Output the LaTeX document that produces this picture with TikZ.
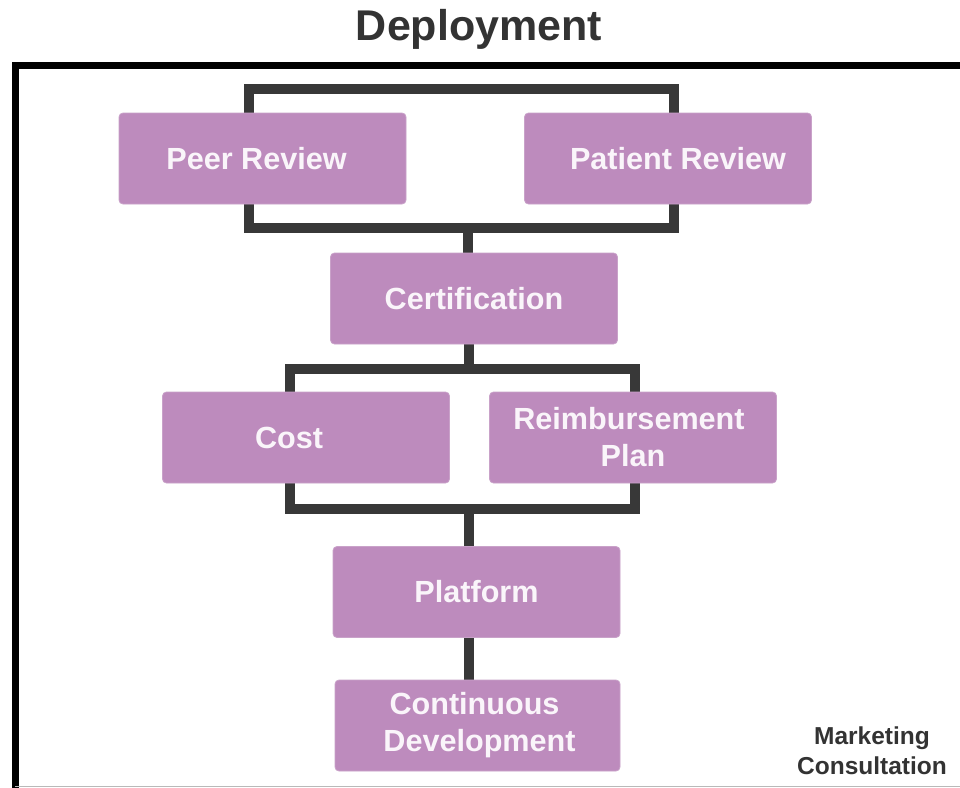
\documentclass[tikz,border=0pt]{standalone}
\usepackage{fontspec}
\setmainfont{Liberation Sans}
\definecolor{boxfill}{HTML}{BD8BBD}
\definecolor{boxline}{HTML}{C9A2C9}
\definecolor{conn}{HTML}{383838}
\definecolor{titlec}{HTML}{333333}
\definecolor{boxtext}{HTML}{FAF5FA}
\pgfdeclarelayer{background}
\pgfsetlayers{background,main}
\tikzset{
  stepbox/.style={rectangle, rounded corners=4pt, fill=boxfill, draw=boxline, line width=0.8pt,
    minimum width=287pt, minimum height=91pt, inner sep=0pt, align=center,
    text=boxtext, font=\bfseries\fontsize{30.6}{37}\selectfont},
  connline/.style={draw=conn, line width=10pt},
  framel/.style={draw=black, line width=6.5pt},
}
\begin{document}
\begin{tikzpicture}[x=1pt,y=-1pt]
\useasboundingbox (0,0) rectangle (960,787);
\begin{pgfonlayer}{background}
\fill[white] (0,0) rectangle (960,787);
\end{pgfonlayer}
% title
\node[text=titlec, font=\bfseries\fontsize{43}{50}\selectfont] (title) at (479,29.5) {Deployment};
% frame
\coordinate (fbl) at (15.5,800);
\coordinate (ftl) at (15.5,65.5);
\coordinate (ftr) at (975,65.5);
\draw[framel] (fbl) -- (ftl) -- (ftr);
\coordinate (gl) at (15,786);
\coordinate (gr) at (960,786);
\draw[gray!55, line width=1pt] (gl) -- (gr);
% connector coordinates
\coordinate (b1tl) at (249,89);
\coordinate (b1br) at (674,228);
\coordinate (b1bot) at (468,228);
\coordinate (b2tl) at (290,369);
\coordinate (b2br) at (634.5,508.5);
\coordinate (b2top) at (468.5,369);
\coordinate (b2bot) at (469,508.5);
% boxes
\node[stepbox] (peer) at (262.5,158.5) {\hspace*{-12pt}Peer Review};
\node[stepbox] (patient) at (668,158.5) {\hspace*{20pt}Patient Review};
\node[stepbox] (cert) at (474,298.5) {Certification};
\node[stepbox] (cost) at (306,437.5) {\hspace*{-34pt}Cost};
\node[stepbox] (reimb) at (633,437.5) {\hspace*{-8pt}Reimbursement\\Plan};
\node[stepbox] (plat) at (476.5,592) {Platform};
\node[stepbox, minimum width=285pt] (cont) at (477.5,725.5) {\hspace*{-6pt}Continuous\\\hspace*{4pt}Development};
% connectors behind boxes
\begin{pgfonlayer}{background}
\draw[connline] (b1tl) rectangle (b1br);
\draw[connline] (b1bot) -- (b1bot |- cert.north);
\draw[connline] (b2top |- cert.south) -- (b2top);
\draw[connline] (b2tl) rectangle (b2br);
\draw[connline] (b2bot) -- (b2bot |- plat.north);
\draw[connline] (b2bot |- plat.south) -- (b2bot |- cont.north);
\end{pgfonlayer}
\node[text=titlec, font=\bfseries\fontsize{24.5}{30}\selectfont, align=center] (mc) at (872,751) {Marketing\\Consultation};
\end{tikzpicture}
\end{document}
